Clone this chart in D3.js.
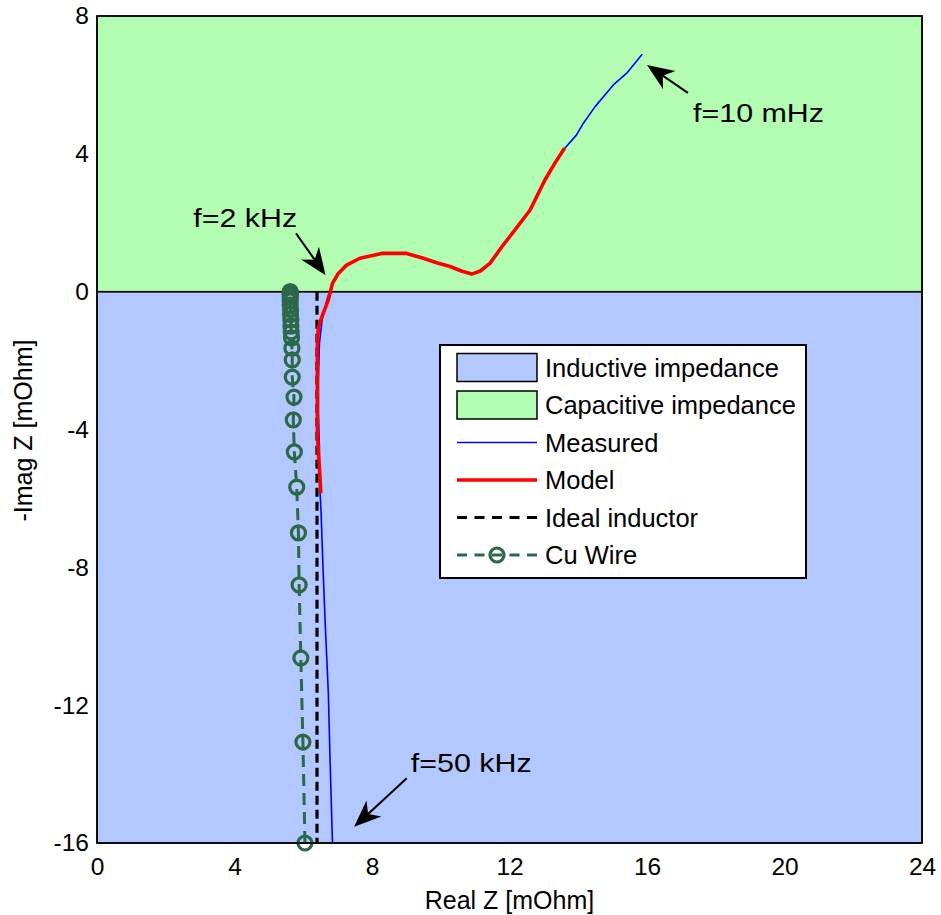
<!DOCTYPE html>
<html>
<head>
<meta charset="utf-8">
<script src="https://cdn.jsdelivr.net/npm/d3@7"></script>
<style>
  body { margin: 0; background: #fff; }
  text { font-family: "Liberation Sans", Arial, Helvetica, sans-serif; fill: #000; }
</style>
</head>
<body>
<svg id="chart" width="941" height="915"></svg>
<script>
// ---------------- data ----------------
const xTicks = [0, 4, 8, 12, 16, 20, 24];
const yTicks = [8, 4, 0, -4, -8, -12, -16];

const regionNames = ["Inductive impedance", "Capacitive impedance"];
const regionY0 = [-16, 0];
const regionY1 = [0, 8];

const measuredX = [6.85, 6.78, 6.73, 6.63, 6.57, 6.52, 6.47, 6.47, 6.44, 6.44, 6.47, 6.55, 6.70, 6.85, 7.02, 7.26, 7.65, 8.28, 9.01, 9.49, 9.88, 10.27, 10.60, 10.90, 11.15, 11.43, 11.82, 12.16, 12.60, 13.03, 13.32, 13.61, 13.95, 14.15, 14.49, 15.02, 15.41, 15.86];
const measuredY = [-16.0, -13.59, -11.65, -9.43, -7.88, -6.43, -5.46, -4.50, -3.50, -2.56, -1.50, -0.80, -0.20, 0.24, 0.53, 0.77, 0.97, 1.11, 1.11, 0.97, 0.84, 0.73, 0.60, 0.51, 0.60, 0.82, 1.36, 1.79, 2.37, 3.24, 3.73, 4.16, 4.55, 4.89, 5.37, 6.00, 6.34, 6.89];

const modelX = [6.51, 6.47, 6.44, 6.41, 6.41, 6.41, 6.44, 6.58, 6.73, 6.85, 7.02, 7.26, 7.65, 8.28, 9.01, 9.49, 9.88, 10.27, 10.60, 10.90, 11.15, 11.43, 11.82, 12.16, 12.60, 13.03, 13.32, 13.60];
const modelY = [-5.85, -5.08, -4.69, -4.01, -2.56, -1.60, -1.02, -0.63, -0.24, 0.24, 0.53, 0.77, 0.97, 1.11, 1.11, 0.97, 0.84, 0.73, 0.60, 0.51, 0.60, 0.82, 1.36, 1.79, 2.37, 3.24, 3.73, 4.16];

const inductorX = [6.4, 6.4];
const inductorY = [0, -16];

const cuX = [6.05, 5.99, 5.93, 5.88, 5.86, 5.81, 5.74, 5.71, 5.73, 5.68, 5.68, 5.67, 5.66, 5.65, 5.64, 5.64, 5.63, 5.63, 5.62, 5.62, 5.62, 5.62, 5.62, 5.62, 5.62];
const cuY = [-16.0, -13.07, -10.63, -8.51, -7.0, -5.67, -4.65, -3.72, -3.06, -2.48, -1.98, -1.64, -1.34, -1.17, -1.0, -0.82, -0.66, -0.52, -0.39, -0.27, -0.17, -0.10, -0.05, -0.02, 0.0];

const annoText = ["f=10 mHz", "f=2 kHz", "f=50 kHz"];
const annoTextX = [17.34, 2.80, 9.13];
const annoTextY = [4.93, 1.87, -13.95];
const arrowTailX = [17.19, 5.79, 9.01];
const arrowTailY = [5.77, 1.69, -14.12];
const arrowTipX = [16.0, 6.65, 7.48];
const arrowTipY = [6.58, 0.48, -15.53];

const legendLabels = ["Inductive impedance", "Capacitive impedance", "Measured", "Model", "Ideal inductor", "Cu Wire"];

// ---------------- styles ----------------
const colInd = "#b3c8ff", colCap = "#b3fdb3";
const colMeas = "#0000ff", colModel = "#ff0000", colCu = "#2d6848";

// ---------------- drawing ----------------
const svg = d3.select("#chart");
const x = d3.scaleLinear().domain([0, 24]).range([97, 922]);
const y = d3.scaleLinear().domain([-16, 8]).range([843, 16]);

// regions
const regionFill = [colInd, colCap];
svg.append("g").selectAll("rect").data(regionNames).join("rect")
  .attr("x", x(0)).attr("width", x(24) - x(0))
  .attr("y", (d, i) => y(regionY1[i]))
  .attr("height", (d, i) => y(regionY0[i]) - y(regionY1[i]))
  .attr("fill", (d, i) => regionFill[i])
  .attr("stroke", "#000").attr("stroke-width", 1.5);

const zip = (xs, ys) => xs.map((v, i) => [v, ys[i]]);
const line = d3.line().x(d => x(d[0])).y(d => y(d[1]));

// Cu wire
const cu = zip(cuX, cuY);
svg.append("path").attr("d", line(cu)).attr("fill", "none")
  .attr("stroke", colCu).attr("stroke-width", 3).attr("stroke-dasharray", "12,7");
svg.append("g").selectAll("circle").data(cu).join("circle")
  .attr("cx", d => x(d[0])).attr("cy", d => y(d[1])).attr("r", 7)
  .attr("fill", "none").attr("stroke", colCu).attr("stroke-width", 3.2);

// measured
svg.append("path").attr("d", line(zip(measuredX, measuredY))).attr("fill", "none")
  .attr("stroke", colMeas).attr("stroke-width", 1.6).attr("stroke-linejoin", "round");

// ideal inductor
svg.append("path").attr("d", line(zip(inductorX, inductorY))).attr("fill", "none")
  .attr("stroke", "#000").attr("stroke-width", 3.2).attr("stroke-dasharray", "9,5");

// model
svg.append("path").attr("d", line(zip(modelX, modelY))).attr("fill", "none")
  .attr("stroke", colModel).attr("stroke-width", 3.6).attr("stroke-linejoin", "round");

// axes
const fmt = d => String(d);
const xAxis = svg.append("g").attr("transform", `translate(0,${y(-16)})`)
  .call(d3.axisBottom(x).tickValues(xTicks).tickSize(0).tickPadding(15).tickFormat(fmt));
xAxis.select(".domain").remove();
xAxis.selectAll("text").attr("font-size", 24.5).attr("font-family", "Liberation Sans, Arial, sans-serif").attr("fill", "#000");

const yAxis = svg.append("g").attr("transform", `translate(${x(0)},0)`)
  .call(d3.axisLeft(y).tickValues(yTicks).tickSize(0).tickPadding(8).tickFormat(fmt));
yAxis.select(".domain").remove();
yAxis.selectAll("text").attr("font-size", 24.5).attr("font-family", "Liberation Sans, Arial, sans-serif").attr("fill", "#000");

// frame
svg.append("rect").attr("x", x(0)).attr("y", y(8)).attr("width", x(24) - x(0)).attr("height", y(-16) - y(8))
  .attr("fill", "none").attr("stroke", "#000").attr("stroke-width", 1.5);

// axis labels
svg.append("text").attr("x", (x(0) + x(24)) / 2).attr("y", 909).attr("text-anchor", "middle")
  .attr("font-size", 25).text("Real Z [mOhm]");
svg.append("text").attr("transform", `translate(31.5,${(y(8) + y(-16)) / 2 + 1}) rotate(-90)`)
  .attr("text-anchor", "middle").attr("font-size", 25).text("-Imag Z [mOhm]");

// annotations
annoText.forEach((t, i) => {
  svg.append("text").attr("transform", `translate(${x(annoTextX[i])},${y(annoTextY[i])}) scale(1.17,1)`)
    .attr("font-size", 26).text(t);
  const x0 = x(arrowTailX[i]), y0 = y(arrowTailY[i]);
  const x1 = x(arrowTipX[i]), y1 = y(arrowTipY[i]);
  const dx = x1 - x0, dy = y1 - y0, L = Math.hypot(dx, dy);
  const ux = dx / L, uy = dy / L, px = -uy, py = ux;
  const hl = 27, hw = 11, notch = 19;
  svg.append("line").attr("x1", x0).attr("y1", y0)
    .attr("x2", x1 - ux * notch).attr("y2", y1 - uy * notch)
    .attr("stroke", "#000").attr("stroke-width", 2);
  const pts = [
    [x1, y1],
    [x1 - ux * hl + px * hw, y1 - uy * hl + py * hw],
    [x1 - ux * notch, y1 - uy * notch],
    [x1 - ux * hl - px * hw, y1 - uy * hl - py * hw]
  ];
  svg.append("path").attr("d", "M" + pts.map(p => p.join(",")).join("L") + "Z").attr("fill", "#000");
});

// legend
const lg = svg.append("g");
lg.append("rect").attr("x", 440).attr("y", 345).attr("width", 366).attr("height", 233)
  .attr("fill", "#fff").attr("stroke", "#000").attr("stroke-width", 2);
const rowY = i => 367.5 + i * 37.5;
const sx0 = 457, sx1 = 537;
legendLabels.forEach((lab, i) => {
  const cy = rowY(i);
  if (i < 2) {
    lg.append("rect").attr("x", sx0).attr("y", cy - 14).attr("width", sx1 - sx0).attr("height", 28)
      .attr("fill", regionFill[i]).attr("stroke", "#000").attr("stroke-width", 1.5);
  } else if (i === 2) {
    lg.append("line").attr("x1", sx0).attr("x2", sx1).attr("y1", cy).attr("y2", cy)
      .attr("stroke", colMeas).attr("stroke-width", 1.6);
  } else if (i === 3) {
    lg.append("line").attr("x1", sx0).attr("x2", sx1).attr("y1", cy).attr("y2", cy)
      .attr("stroke", colModel).attr("stroke-width", 3.6);
  } else if (i === 4) {
    lg.append("line").attr("x1", sx0).attr("x2", sx1).attr("y1", cy).attr("y2", cy)
      .attr("stroke", "#000").attr("stroke-width", 3.2).attr("stroke-dasharray", "10,7.5");
  } else {
    lg.append("line").attr("x1", sx0).attr("x2", sx1).attr("y1", cy).attr("y2", cy)
      .attr("stroke", colCu).attr("stroke-width", 3).attr("stroke-dasharray", "10,7.5");
    lg.append("circle").attr("cx", (sx0 + sx1) / 2).attr("cy", cy).attr("r", 7)
      .attr("fill", "none").attr("stroke", colCu).attr("stroke-width", 3.2);
  }
  lg.append("text").attr("x", 545).attr("y", cy).attr("dy", "0.36em")
    .attr("font-size", 25.5).text(lab);
});
</script>
</body>
</html>
